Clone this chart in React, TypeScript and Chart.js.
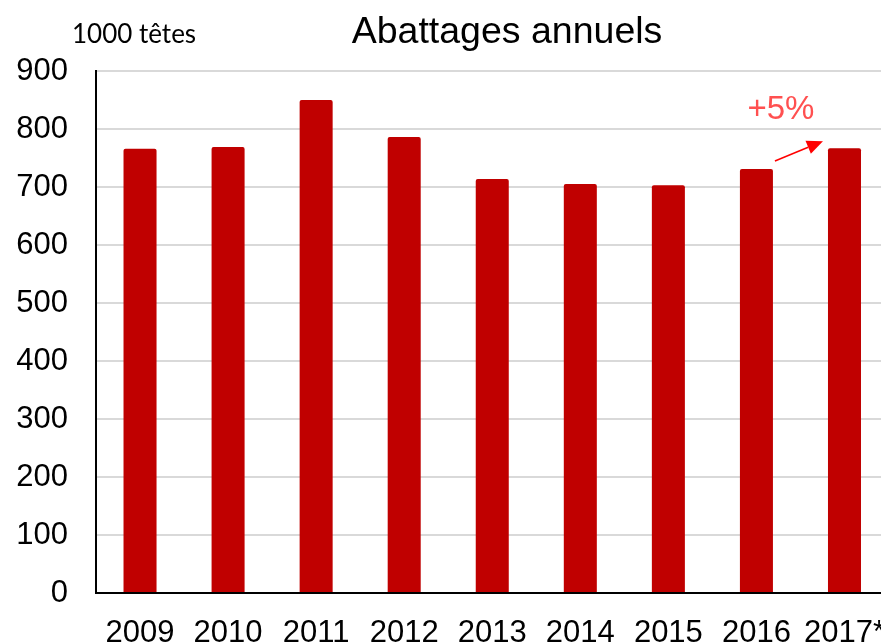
import React, { useEffect, useRef } from "react";
import { Chart, registerables } from "chart.js";

Chart.register(...registerables);

const years = ["2009", "2010", "2011", "2012", "2013", "2014", "2015", "2016", "2017*"];
const slaughter = [766, 769, 850, 786, 714, 705, 703, 731, 767];
const yTicks = [0, 100, 200, 300, 400, 500, 600, 700, 800, 900];
const titleText = "Abattages annuels";
const unitText = "1000 têtes";
const changeText = "+5%";

const BAR_RED = "#C00000";

// Title, unit label and the growth arrow between the last two bars
const annotations = {
  id: "annotations",
  afterDraw(chart: any) {
    const { ctx, chartArea } = chart;
    const meta = chart.getDatasetMeta(0);
    const prev = meta.data[meta.data.length - 2];
    const last = meta.data[meta.data.length - 1];
    ctx.save();

    ctx.fillStyle = "#000";
    ctx.textBaseline = "alphabetic";
    ctx.textAlign = "center";
    ctx.font = "37.5px 'Liberation Sans', Arial, sans-serif";
    ctx.fillText(titleText, 507, 43);

    ctx.textAlign = "left";
    ctx.font = "26px Lato, sans-serif";
    ctx.fillText(unitText, 72, 43);

    // arrow from the 2016 bar to the 2017 bar
    const x0 = prev.x + prev.width / 2 + 2;
    const y0 = prev.y - 8;
    const x1 = last.x - last.width / 2 - 5;
    const y1 = last.y - 7;
    const ang = Math.atan2(y1 - y0, x1 - x0);
    const head = 16;
    const hw = 7;
    const bx = x1 - head * Math.cos(ang);
    const by = y1 - head * Math.sin(ang);
    ctx.strokeStyle = "#FF0000";
    ctx.fillStyle = "#FF0000";
    ctx.lineWidth = 1.5;
    ctx.beginPath();
    ctx.moveTo(x0, y0);
    ctx.lineTo(bx, by);
    ctx.stroke();
    ctx.beginPath();
    ctx.moveTo(x1, y1);
    ctx.lineTo(bx + hw * Math.sin(ang), by - hw * Math.cos(ang));
    ctx.lineTo(bx - hw * Math.sin(ang), by + hw * Math.cos(ang));
    ctx.closePath();
    ctx.fill();

    ctx.fillStyle = "#FF5050";
    ctx.textAlign = "center";
    ctx.font = "33px 'Liberation Sans', Arial, sans-serif";
    ctx.fillText(changeText, (x0 + x1) / 2 - 18, chartArea.top + 48);

    ctx.restore();
  },
};

export default function App() {
  const ref = useRef<HTMLCanvasElement | null>(null);

  useEffect(() => {
    if (!ref.current) return;
    const chart = new Chart(ref.current, {
      type: "bar",
      data: {
        labels: years,
        datasets: [
          {
            data: slaughter,
            backgroundColor: BAR_RED,
            borderRadius: 2,
            borderSkipped: "bottom",
            barPercentage: 0.375,
            categoryPercentage: 1,
          },
        ],
      },
      options: {
        animation: false,
        responsive: false,
        layout: { padding: { top: 71, left: 0, right: 0, bottom: 0 } },
        plugins: { legend: { display: false }, tooltip: { enabled: false } },
        scales: {
          x: {
            grid: { display: false, drawTicks: false },
            border: { display: true, color: "#000", width: 2 },
            ticks: {
              color: "#000",
              padding: 22,
              maxRotation: 0,
              autoSkip: false,
              font: { family: "'Liberation Sans', Arial, sans-serif", size: 31 },
            },
            afterFit: (s: any) => {
              s.height = 51;
            },
          },
          y: {
            min: 0,
            max: 900,
            afterBuildTicks: (s: any) => {
              s.ticks = yTicks.map((v) => ({ value: v }));
            },
            grid: { color: "#D9D9D9", lineWidth: 2, drawTicks: false },
            border: { display: true, color: "#000", width: 2 },
            ticks: {
              color: "#000",
              padding: 28,
              font: { family: "'Liberation Sans', Arial, sans-serif", size: 31 },
            },
            afterFit: (s: any) => {
              s.width = 96;
            },
          },
        },
      },
      plugins: [annotations],
    });
    return () => chart.destroy();
  }, []);

  return (
    <div
      style={{
        position: "absolute",
        left: 0,
        top: 0,
        width: 881,
        height: 644,
        overflow: "hidden",
        background: "#fff",
      }}
    >
      <canvas ref={ref} width={907} height={644} style={{ display: "block" }} />
    </div>
  );
}
